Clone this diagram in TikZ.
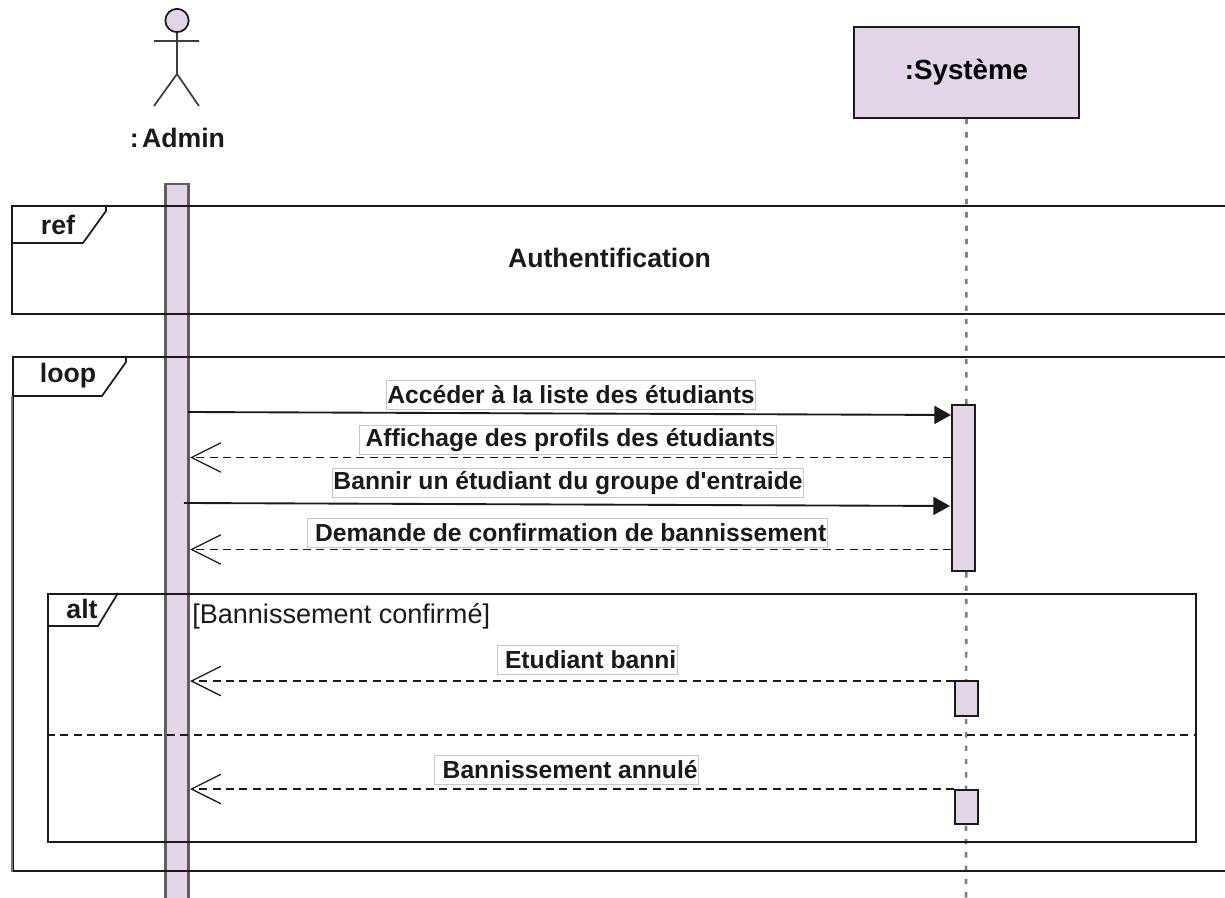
\documentclass[tikz,border=0pt]{standalone}
\usepackage{fontspec}
\setmainfont{Liberation Sans}
\newfontfamily\umlfont{Liberation Sans}
\usetikzlibrary{arrows.meta}
\definecolor{umlfill}{HTML}{E1D5E7}
\definecolor{inkc}{HTML}{1A1A1A}
\definecolor{lifec}{HTML}{808080}
\tikzset{
  umlline/.style={draw=inkc,line width=1.3pt},
  actbar/.style={umlline,fill=umlfill,inner sep=0pt,minimum width=17.25pt,anchor=north west},
  framebox/.style={umlline,inner sep=0pt,anchor=north west},
  msglabel/.style={fill=white,draw=black!22,line width=0.4pt,font=\umlfont\bfseries\fontsize{18.5}{20}\selectfont,text=inkc,inner xsep=0.6pt,inner ysep=0pt,minimum height=21.5pt},
  plainlabel/.style={font=\bfseries\fontsize{20}{22}\selectfont,text=inkc,inner sep=0pt},
  syncmsg/.style={draw=inkc,line width=1.4pt,-{Triangle[length=12.5pt,width=13.5pt]}},
  replymsg/.style={draw=inkc,line width=1pt,dash pattern=on 6pt off 4pt,-{Straight Barb[length=22pt,width=22pt,line width=1pt]}},
  lifeline/.style={draw=lifec,line width=2pt,dash pattern=on 4pt off 6pt},
}
\begin{document}
\begin{tikzpicture}[x=0.75pt,y=-0.75pt]
\useasboundingbox (0,0) rectangle (1225,898);
\fill[white] (0,0) rectangle (1225,898);
% lifelines and bars
\node[umlline,fill=umlfill,inner sep=0pt,minimum width=168.75pt,minimum height=68.25pt] (sys) at (966.5,72.5) {\bfseries\fontsize{20.8}{22}\selectfont :Système};
\coordinate (sysend) at (966,898);
\draw[lifeline] (sys.south) -- (sysend);
\node[actbar,draw=inkc!70,line width=1.7pt,minimum height=540pt] (adminbar) at (164.3,183) {};
% actor
\node[circle,umlline,fill=umlfill,inner sep=0pt,minimum size=17.5pt] (head) at (177,20.5) {};
\coordinate (armL) at (154,41);
\coordinate (armR) at (199,41);
\coordinate (hip) at (177,74);
\coordinate (legL) at (154,106);
\coordinate (legR) at (199,106);
\draw[umlline,draw=inkc!85] (head.south) -- (hip) (armL) -- (armR) (legL) -- (hip) -- (legR);
\node[plainlabel] (adminlabel) at (177.5,138) {:\hspace{0.12em}Admin};
% ref frame
\node[framebox,minimum width=930pt,minimum height=81pt] (reff) at (11,205) {};
\coordinate (refa) at (106,205);
\coordinate (refb) at (106,211);
\coordinate (refc) at (83,243);
\coordinate (refd) at (11,243);
\draw[umlline] (refa) -- (refb) -- (refc) -- (refd);
\node[plainlabel] (reft) at (58,225) {ref};
\node[plainlabel] (authn) at (609.5,257.5) {Authentification};
% loop frame
\node[framebox,minimum width=930pt,minimum height=385.5pt] (loopf) at (12,356) {};
\coordinate (loopa) at (126,356);
\coordinate (loopb) at (126,362);
\coordinate (loopc) at (102,396);
\coordinate (loopd) at (12,396);
\draw[umlline] (loopa) -- (loopb) -- (loopc) -- (loopd);
\draw[draw=inkc!60,line width=1.8pt] (loopd) -- (loopf.south west);
\node[plainlabel] (loopt) at (68,376) {loop};
% alt frame
\node[framebox,minimum width=861pt,minimum height=186pt] (altf) at (47,593) {};
\coordinate (alta) at (118,593);
\coordinate (altb) at (98,626);
\coordinate (altc) at (47,626);
\draw[umlline] (alta) -- (altb) -- (altc);
\node[plainlabel] (altt) at (82,609) {alt};
\node[anchor=west,inner sep=0pt,font=\fontsize{20.3}{22}\selectfont,text=inkc] (guard) at (192,616) {[Bannissement confirmé]};
\coordinate (divL) at (47,735);
\coordinate (divR) at (1195,735);
\draw[draw=inkc,line width=1.1pt,dash pattern=on 6pt off 4pt] (divL) -- (divR);
% activations
\node[actbar,minimum height=124.5pt] (act1) at (951,404) {};
\node[actbar,minimum height=26.25pt] (act2) at (954,680) {};
\node[actbar,minimum height=25.5pt] (act3) at (954,789) {};
% messages
\coordinate (m1s) at (188,412);
\coordinate (m1e) at (951,415);
\coordinate (m2s) at (951,457.5);
\coordinate (m2e) at (190,457.5);
\coordinate (m3s) at (184,503);
\coordinate (m3e) at (950,506);
\coordinate (m4s) at (951,549.5);
\coordinate (m4e) at (190,549.5);
\coordinate (m5s) at (954,681);
\coordinate (m5e) at (190,681);
\coordinate (m6s) at (954,789);
\coordinate (m6e) at (190,789);
\draw[syncmsg] (m1s) -- (m1e);
\draw[replymsg] (m2s) -- (m2e);
\draw[syncmsg] (m3s) -- (m3e);
\draw[replymsg] (m4s) -- (m4e);
\draw[replymsg] (m5s) -- (m5e);
\draw[replymsg] (m6s) -- (m6e);
% labels
\node[msglabel] (l1) at (571,395) {Accéder à la liste des étudiants};
\node[msglabel] (l2) at (567.5,440) {\hspace*{4.5pt}Affichage des profils des étudiants};
\node[msglabel] (l3) at (568,483) {Bannir un étudiant du groupe d'entraide};
\node[msglabel] (l4) at (567,532.5) {\hspace*{5.5pt}Demande de confirmation de bannissement};
\node[msglabel] (l5) at (587,660) {\hspace*{5.5pt}Etudiant banni};
\node[msglabel] (l6) at (566.5,770) {\hspace*{5.5pt}Bannissement annulé};
\end{tikzpicture}
\end{document}
